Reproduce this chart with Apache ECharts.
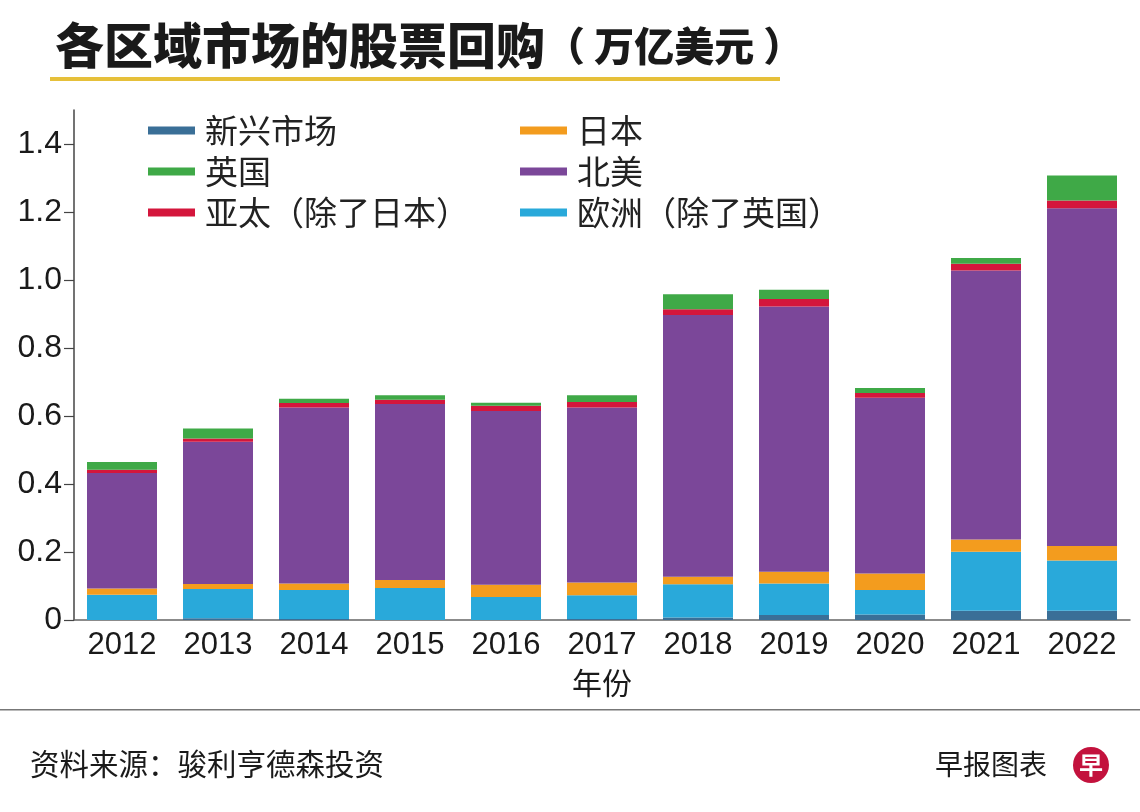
<!DOCTYPE html>
<html>
<head>
<meta charset="utf-8">
<script src="https://cdn.jsdelivr.net/npm/echarts@6/dist/echarts.min.js"></script>
<style>
html,body{margin:0;padding:0;background:#fff;}
#c{width:1140px;height:812px;}
</style>
</head>
<body>
<div id="c"></div>
<script>
// ---- data ----
const years = ['2012','2013','2014','2015','2016','2017','2018','2019','2020','2021','2022'];
const emerging = [0.000,0.005,0.003,0.000,0.000,0.003,0.007,0.015,0.016,0.027,0.027];
const europe   = [0.074,0.086,0.085,0.094,0.068,0.070,0.098,0.092,0.072,0.174,0.148];
const japan    = [0.019,0.015,0.019,0.024,0.036,0.037,0.022,0.035,0.049,0.036,0.043];
const namerica = [0.339,0.418,0.518,0.517,0.511,0.515,0.770,0.780,0.517,0.791,0.993];
const apac     = [0.010,0.010,0.013,0.013,0.015,0.016,0.017,0.022,0.014,0.020,0.023];
const uk       = [0.023,0.029,0.013,0.013,0.009,0.020,0.044,0.027,0.014,0.017,0.073];
const yTicks = [0,0.2,0.4,0.6,0.8,1.0,1.2,1.4];

const names = {
  em:'新兴市场', jp:'日本', uk:'英国', na:'北美', ap:'亚太（除了日本）', eu:'欧洲（除了英国）'
};
const colors = {
  em:'#3a6f97', jp:'#f39c1e', uk:'#3fa947', na:'#7b4799', ap:'#d4163c', eu:'#29a9da'
};

const FONT_CJK = '"Noto Sans CJK SC","Noto Sans",sans-serif';
const FONT_NUM = '"Liberation Sans","Noto Sans",Arial,sans-serif';

function bar(key, data){
  return {
    name: names[key], type:'bar', stack:'total', data:data,
    barWidth:70, itemStyle:{color:colors[key]}, emphasis:{disabled:true}
  };
}

const chart = echarts.init(document.getElementById('c'), null, {renderer:'canvas'});
const legendCommon = {
  orient:'vertical', top:109, itemWidth:47, itemHeight:8, icon:'rect', itemGap:8,
  selectedMode:false,
  textStyle:{fontSize:33, lineHeight:33, color:'#222', fontFamily:FONT_CJK, padding:[0,0,0,5]}
};
chart.setOption({
  animation:false,
  backgroundColor:'#fff',
  title:{
    text:'{a|各区域市场的股票回购}{b|（ 万亿美元 ）}',
    left:50, top:16,
    textStyle:{
      rich:{
        a:{fontSize:49, fontWeight:900, color:'#1a1a1a', fontFamily:FONT_CJK},
        b:{fontSize:40, fontWeight:900, color:'#1a1a1a', fontFamily:FONT_CJK}
      }
    }
  },
  legend:[
    Object.assign({left:143, data:[names.em, names.uk, names.ap]}, legendCommon),
    Object.assign({left:515, data:[names.jp, names.na, names.eu]}, legendCommon)
  ],
  grid:{left:74, right:10, top:110, bottom:192, containLabel:false},
  xAxis:{
    type:'category', data:years,
    axisLine:{lineStyle:{color:'#666', width:1.5}},
    axisTick:{show:false},
    axisLabel:{fontSize:31, color:'#1a1a1a', fontFamily:FONT_NUM, margin:10},
    name:'年份', nameLocation:'middle', nameGap:48,
    nameTextStyle:{fontSize:30, color:'#1a1a1a', fontFamily:FONT_CJK}
  },
  yAxis:{
    type:'value', min:0, max:1.5, interval:0.2,
    splitLine:{show:false},
    axisLine:{show:true, lineStyle:{color:'#444', width:1.5}},
    axisTick:{show:true, length:10, customValues:yTicks, lineStyle:{color:'#444', width:1.2}},
    axisLabel:{customValues:yTicks, fontSize:32, color:'#1a1a1a', fontFamily:FONT_NUM, margin:12,
      formatter:function(v){ return v===0 ? '0' : v.toFixed(1); }}
  },
  series:[
    bar('em', emerging),
    bar('eu', europe),
    bar('jp', japan),
    bar('na', namerica),
    bar('ap', apac),
    bar('uk', uk)
  ],
  graphic:[
    {type:'rect', left:50, top:77, shape:{width:730, height:4}, style:{fill:'#e6c03a'}},
    {type:'rect', left:0, top:709, shape:{width:1140, height:1.5}, style:{fill:'#777'}},
    {type:'text', left:30, top:749, style:{text:'资料来源：骏利亨德森投资', fontSize:29.5, fill:'#1a1a1a', fontFamily:FONT_CJK}},
    {type:'text', left:935, top:750, style:{text:'早报图表', fontSize:28, fill:'#1a1a1a', fontFamily:FONT_CJK}},
    {type:'circle', shape:{cx:1091, cy:765, r:18}, style:{fill:'#c3123d'}},
    {type:'text', x:1091, y:765, style:{text:'早', fontSize:24, fontWeight:'bold', fill:'#fff', align:'center', verticalAlign:'middle', fontFamily:FONT_CJK}}
  ]
});
</script>
</body>
</html>
